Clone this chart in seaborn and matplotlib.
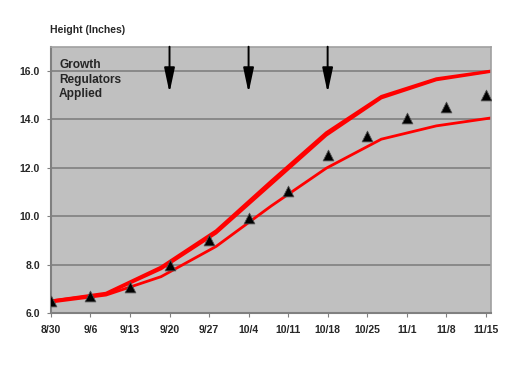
import pandas as pd
import matplotlib
matplotlib.use('Agg')
import matplotlib.pyplot as plt
import seaborn as sns

# Données (jours depuis le 30 août)
tick_days = [0, 7, 14, 21, 28, 35, 42, 49, 56, 63, 70, 77]
tick_labels = ['8/30', '9/6', '9/13', '9/20', '9/27', '10/4', '10/11',
               '10/18', '10/25', '11/1', '11/8', '11/15']

# hauteurs mesurées (triangles)
measured_height = [6.5, 6.72, 7.07, 8.0, 9.0, 9.93, 11.05, 12.52, 13.32, 14.07, 14.52, 15.0]

# courbes (points tous les ~9.75 jours)
curve_days = [0, 9.75, 19.5, 29.25, 39, 48.75, 58.5, 68.25, 78]
upper_a = [6.5, 6.82, 7.9, 9.4, 11.45, 13.45, 14.95, 15.68, 16.0]
upper_b = [6.5, 6.78, 7.82, 9.3, 11.32, 13.34, 14.88, 15.63, 15.98]
lower = [6.45, 6.74, 7.5, 8.75, 10.42, 11.98, 13.18, 13.73, 14.06]

# jours où les régulateurs ont été appliqués
applied_days = [21, 35, 49]

sns.set_style('ticks', {'axes.facecolor': '#C0C0C0', 'axes.edgecolor': '#808080'})
plt.rcParams['font.family'] = ['Liberation Sans', 'DejaVu Sans']
plt.rcParams['font.weight'] = 'bold'

fig = plt.figure(figsize=(5.25, 3.65), dpi=100)
ax = fig.add_axes([0.097, 0.1425, 0.839, 0.7295])

curves = pd.DataFrame({'jour': curve_days, 'a': upper_a, 'b': upper_b, 'bas': lower})
for col in ['a', 'b', 'bas']:
    sns.lineplot(data=curves, x='jour', y=col, ax=ax, color='#FF0000', lw=2.0, sort=False)

mesures = pd.DataFrame({'jour': tick_days, 'hauteur': measured_height})
sns.scatterplot(data=mesures, x='jour', y='hauteur', ax=ax, marker='^', s=60,
                color='black', edgecolor='#505050', linewidth=0.6, zorder=5)

for d in applied_days:
    ax.annotate('', xy=(d, 15.1), xytext=(d, 17.0),
                arrowprops=dict(arrowstyle='-|>,head_length=1.5,head_width=0.32',
                                color='black', lw=1.4, shrinkA=0, shrinkB=0))

ax.text(1.45, 16.5, 'Growth\nRegulators\nApplied', fontsize=8.6, fontweight='bold',
        va='top', ha='left', linespacing=1.3)

ax.set_xlim(0, 78)
ax.set_ylim(6, 17)
ax.set_yticks([6, 8, 10, 12, 14, 16])
ax.set_yticklabels(['6.0', '8.0', '10.0', '12.0', '14.0', '16.0'])
ax.set_xticks(tick_days)
ax.set_xticklabels(tick_labels)
ax.tick_params(labelsize=7.5, length=3, color='#808080')
ax.tick_params(axis='x', pad=6)
ax.tick_params(axis='y', pad=5)
ax.yaxis.grid(True, color='#808080', lw=1.2)
ax.set_axisbelow(True)
ax.set_xlabel('')
ax.set_ylabel('')
for s in ['left', 'bottom']:
    ax.spines[s].set_color('#808080')
    ax.spines[s].set_linewidth(1.5)
for s in ['top', 'right']:
    ax.spines[s].set_visible(True)
    ax.spines[s].set_color('#A0A0A0')
    ax.spines[s].set_linewidth(1.2)

fig.text(0.095, 0.903, 'Height (Inches)', fontsize=7.5, fontweight='bold', ha='left', va='bottom')

plt.savefig('out.png', dpi=100)
